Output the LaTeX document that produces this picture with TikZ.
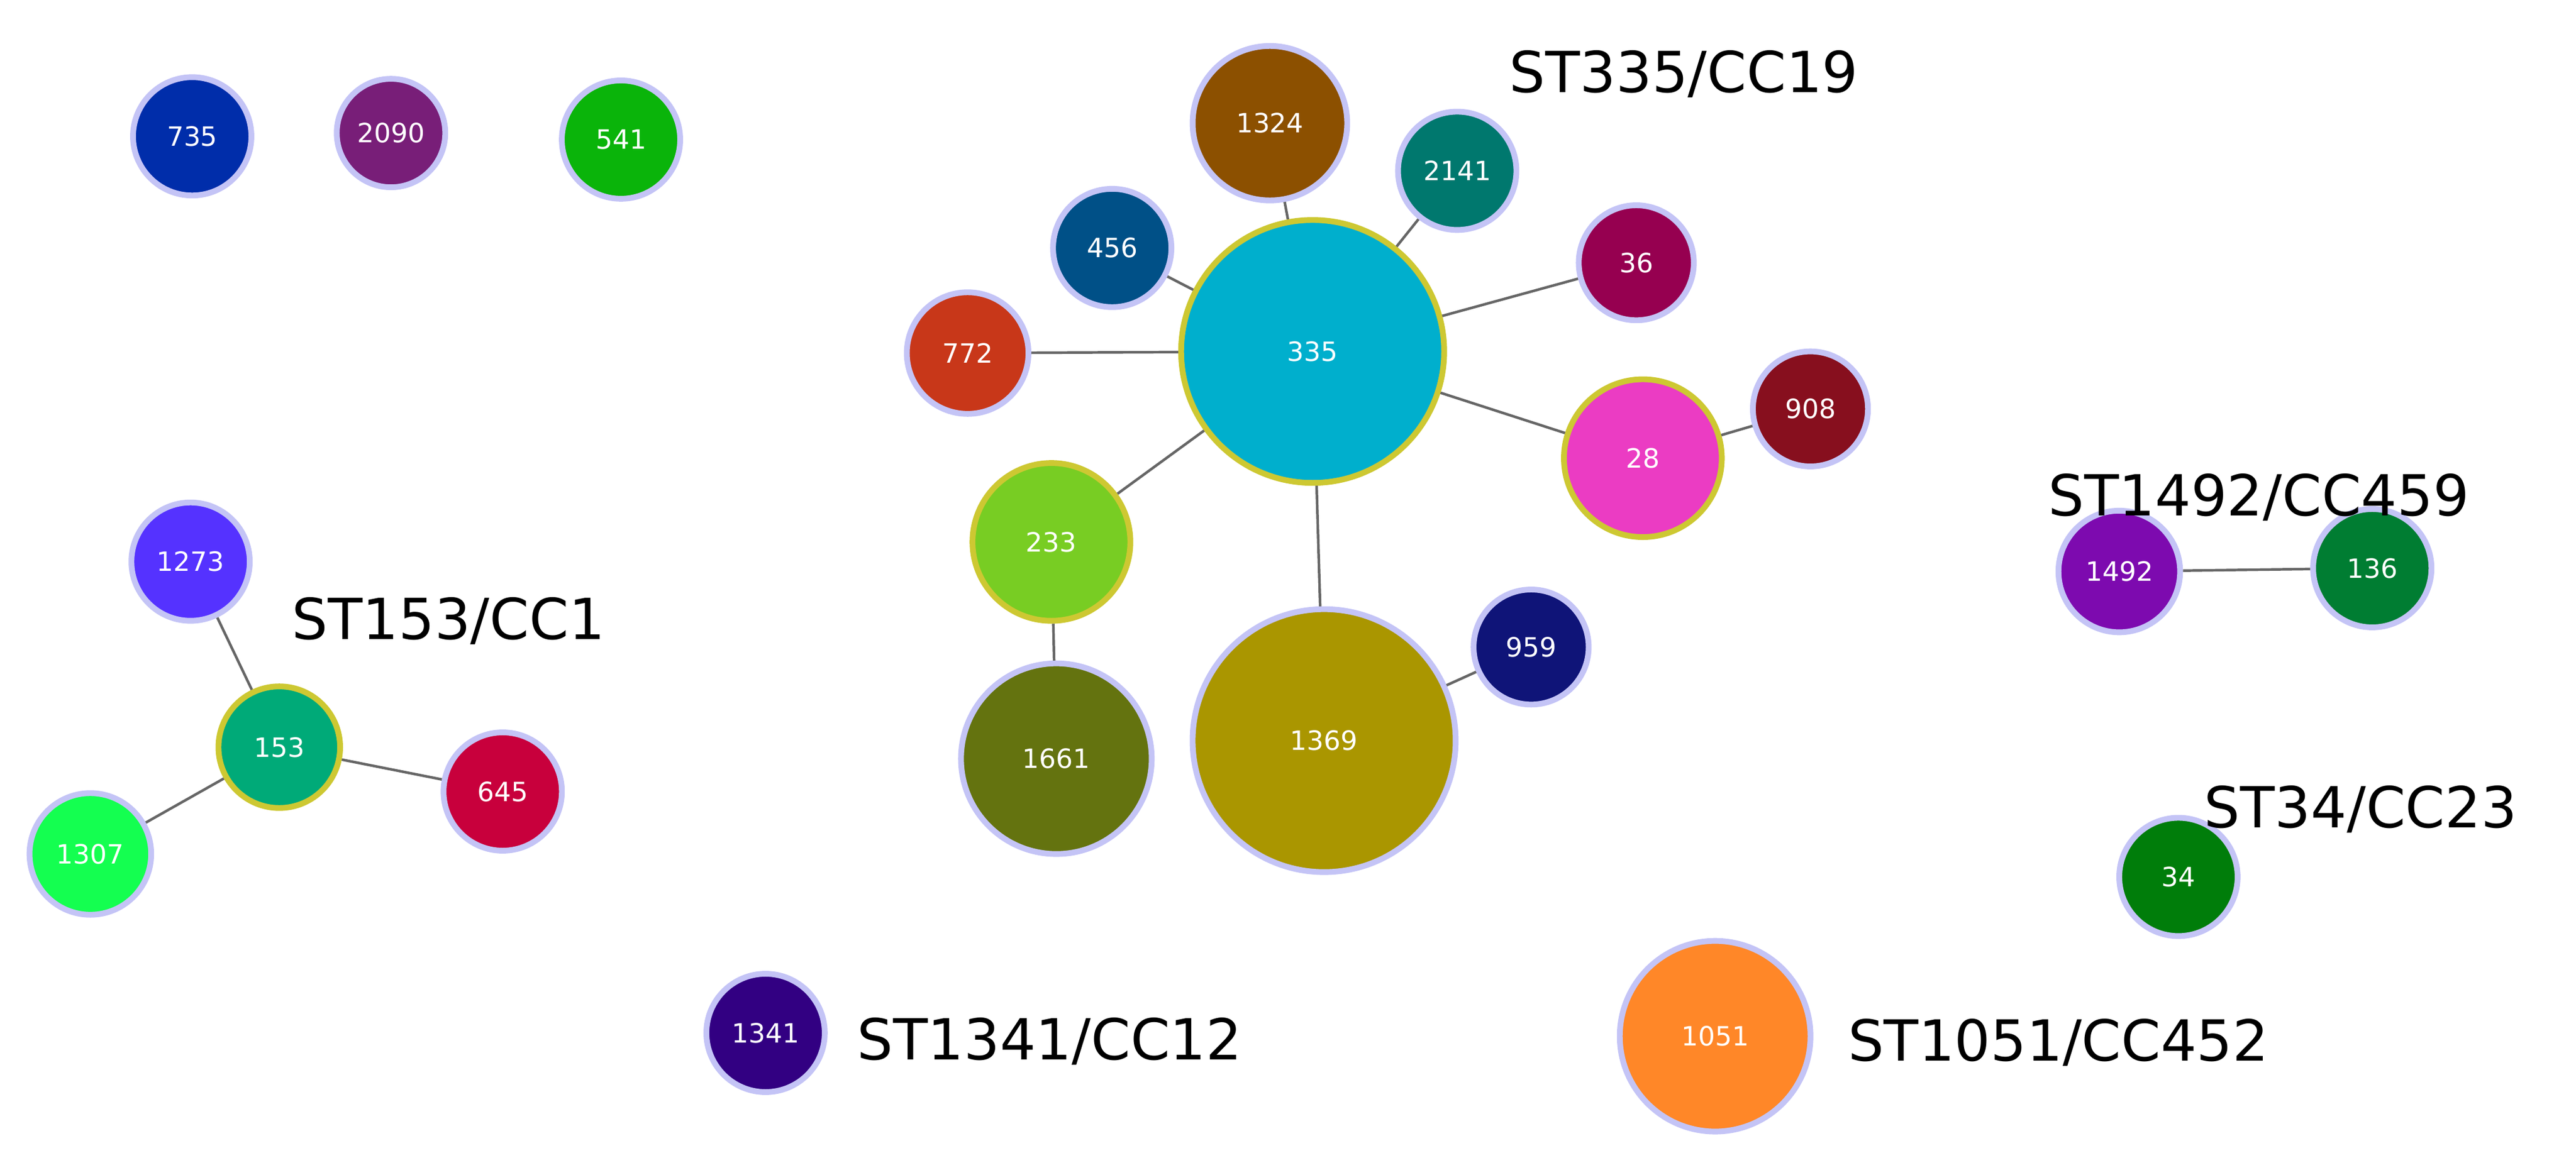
\documentclass[tikz,border=0pt]{standalone}
\usepackage{fontspec}
\setmainfont{DejaVu Sans}
\begin{document}
\begin{tikzpicture}[x=0.01cm,y=-0.01cm,
 st/.style={circle,draw=lav,line width=1pt,inner sep=0pt,text=white,font=\fontsize{4.6}{5}\selectfont},
 ys/.style={draw=yel},
 lab/.style={font=\fontsize{9.8}{11}\selectfont,text=black},
 ln/.style={draw=gray!80!black,line width=0.45pt}]
\definecolor{lav}{RGB}{196,196,246}
\definecolor{yel}{RGB}{205,200,50}
\useasboundingbox (0,0) rectangle (1568,705);
\def\N#1#2#3#4#5#6{\definecolor{c#1}{HTML}{#5}\node[st,#6,fill=c#1,minimum size=#4*0.02cm] (n#1) at (#2,#3) {#1};}
\N{735}{117}{83}{36}{002DAA}{}
\N{2090}{238}{81}{33}{781E78}{}
\N{541}{378}{85}{36}{0AB40A}{}
\N{1324}{773}{75}{47}{8C5000}{}
\N{2141}{887}{104}{36}{00786E}{}
\N{36}{996}{160}{35}{960050}{}
\N{456}{677}{151}{36}{005087}{}
\N{772}{589}{215}{37}{C83719}{}
\N{908}{1102}{249}{35}{870F1E}{}
\N{959}{932}{394}{35}{0F1478}{}
\N{1661}{643}{462}{58}{64730F}{}
\N{1369}{806}{451}{80}{AA9600}{}
\N{1273}{116}{342}{36}{5532FF}{}
\N{645}{306}{482}{36}{C8003C}{}
\N{1307}{55}{520}{37}{14FF50}{}
\N{1492}{1290}{348}{37}{7D0AAF}{}
\N{136}{1444}{346}{36}{007D32}{}
\N{34}{1326}{534}{36}{007D0A}{}
\N{1341}{466}{629}{36}{320082}{}
\N{1051}{1044}{631}{58}{FF8728}{}
\N{335}{799}{214}{80}{00AFCD}{ys}
\N{28}{1000}{279}{48}{EB3CC3}{ys}
\N{233}{640}{330}{48}{78CD23}{ys}
\N{153}{170}{455}{37}{00AA78}{ys}
\foreach \a/\b in {335/1324,335/2141,335/36,335/456,335/772,335/28,335/233,335/1369,28/908,233/1661,1369/959,153/1273,153/645,153/1307,1492/136}
 \draw[ln] (n\a) -- (n\b);
\node[lab] at (1025,45) {ST335/CC19};
\node[lab] at (1375,303) {ST1492/CC459};
\node[lab] at (273,378) {ST153/CC1};
\node[lab] at (1437,493) {ST34/CC23};
\node[lab] at (639,634) {ST1341/CC12};
\node[lab] at (1253,635) {ST1051/CC452};
\end{tikzpicture}
\end{document}
